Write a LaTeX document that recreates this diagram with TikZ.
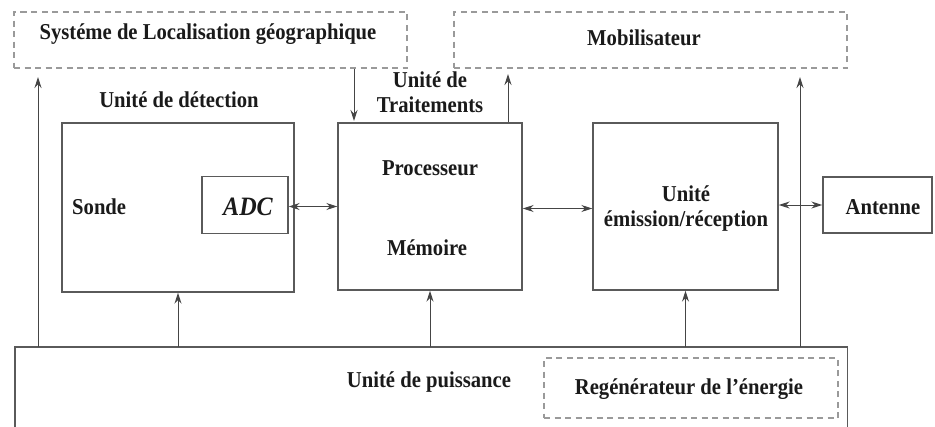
\documentclass[tikz,border=0pt]{standalone}
\usepackage{fontspec}
\setmainfont[FakeStretch=0.91]{Liberation Serif}
\usetikzlibrary{arrows.meta}
\definecolor{boxgray}{HTML}{5A5A5A}
\definecolor{dashgray}{HTML}{9A9A9A}
\definecolor{arrgray}{HTML}{454545}
\definecolor{txt}{HTML}{1A1A1A}
\begin{document}
\begin{tikzpicture}[x=1pt,y=-1pt,
  font=\fontsize{22.7}{26}\selectfont\bfseries,
  block/.style={draw=boxgray,line width=1.4pt,rectangle,inner sep=0pt},
  dblock/.style={draw=dashgray,line width=1.4pt,rectangle,inner sep=0pt,dash pattern=on 6pt off 4.5pt},
  lbl/.style={inner sep=0pt,anchor=base,text=txt},
  arr/.style={draw=arrgray,line width=1pt,-{Stealth[length=11pt,width=7pt]}},
  darr/.style={draw=arrgray,line width=1pt,{Stealth[length=11pt,width=7pt]}-{Stealth[length=11pt,width=7pt]}}]
\useasboundingbox (0,0) rectangle (935,426);
\fill[white] (0,0) rectangle (935,426);

% dashed boxes at the top
\node[dblock,minimum width=393pt,minimum height=56pt] (sys) at (210.5,40) {};
\node[dblock,minimum width=393pt,minimum height=56pt] (mob) at (650.5,40) {};
\node[lbl] (systxt) at (208,39.5) {Systéme de Localisation géographique};
\node[lbl] (mobtxt) at (644,45.5) {Mobilisateur};

% main blocks
\node[block,minimum width=232pt,minimum height=169pt] (sonde) at (178,207.5) {};
\node[block,minimum width=86pt,minimum height=57pt] (adc) at (245,205) {};
\node[block,minimum width=184pt,minimum height=167pt] (proc) at (430,206.5) {};
\node[block,minimum width=185pt,minimum height=167pt] (emis) at (685.5,206.5) {};
\node[block,minimum width=109pt,minimum height=56pt] (ant) at (877.5,205) {};

% power unit (its lower edge lies below the picture)
\node[inner sep=0pt,minimum width=832pt,minimum height=100pt] (pwr) at (431,397) {};
\draw[draw=boxgray,line width=1.4pt] (pwr.south west) -- (pwr.north west) -- (pwr.north east) -- (pwr.south east);
\node[dblock,minimum width=294pt,minimum height=60pt] (regen) at (691,388) {};

% labels
\node[lbl] (dettxt) at (179,107) {Unité de détection};
\node[lbl] (trt1) at (430,87) {Unité de};
\node[lbl] (trt2) at (430,112) {Traitements};
\node[lbl,anchor=base west] (sondetxt) at (72,214) {Sonde};
\node[lbl] (adctxt) at (248,215) {\fontsize{26.5}{30}\selectfont\itshape ADC};
\node[lbl] (proctxt) at (430,175) {Processeur};
\node[lbl] (memtxt) at (427,255) {Mémoire};
\node[lbl] (emis1) at (686,201.5) {Unité};
\node[lbl] (emis2) at (686,226.5) {émission/réception};
\node[lbl] (anttxt) at (883,214) {Antenne};
\node[lbl] (pwrtxt) at (429,387) {Unité de puissance};
\node[lbl] (regtxt) at (689,394) {Regénérateur de l’énergie};

% free arrow ends
\coordinate (upL) at (38,77);
\coordinate (upR) at (800,77);
\coordinate (upM) at (508,74);
\coordinate (downP) at (354,121);

% connectors
\draw[arr] (pwr.north -| upL) -- (upL);
\draw[arr] (pwr.north -| upR) -- (upR);
\draw[arr] (proc.north -| upM) -- (upM);
\draw[arr] (sys.south -| downP) -- (downP);
\draw[arr] (pwr.north -| sonde.south) -- (sonde.south);
\draw[arr] (pwr.north -| proc.south) -- (proc.south);
\draw[arr] (pwr.north -| emis.south) -- (emis.south);
\draw[darr] ([yshift=-1.5pt]adc.east) -- ([yshift=-1.5pt]adc.east -| proc.west);
\draw[darr] ([yshift=-2pt]proc.east) -- ([yshift=-2pt]proc.east -| emis.west);
\draw[darr] (emis.east |- ant.west) -- (ant.west);
\end{tikzpicture}
\end{document}
